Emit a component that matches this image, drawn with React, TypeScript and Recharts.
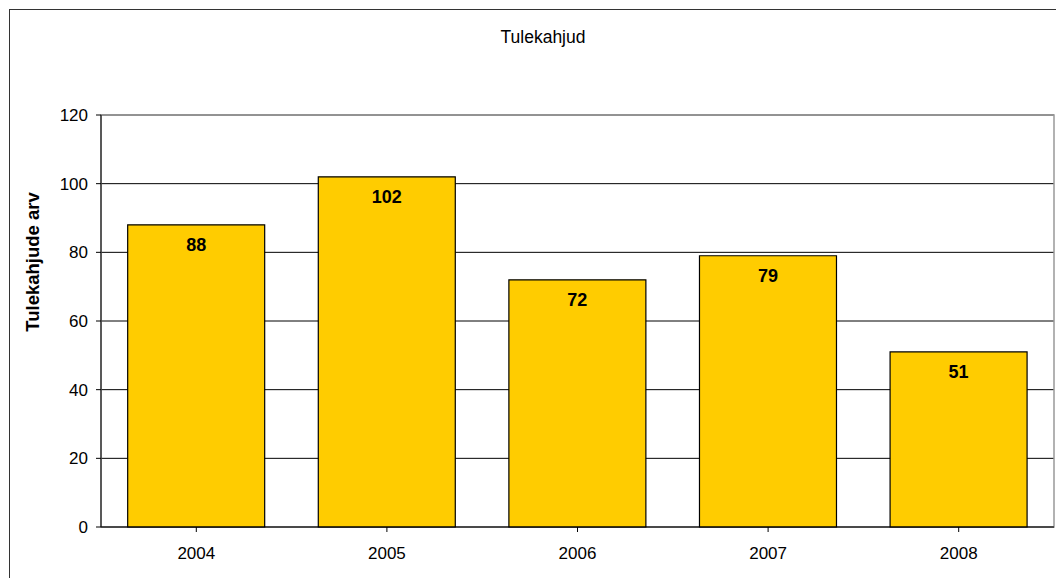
import React from "react";
import { BarChart, Bar, XAxis, YAxis, CartesianGrid, LabelList, ReferenceArea } from "recharts";

const years = ["2004", "2005", "2006", "2007", "2008"];
const fires = [88, 102, 72, 79, 51];
const yTicks = [0, 20, 40, 60, 80, 100, 120];

const data = years.map((year, i) => ({ year, fires: fires[i] }));

const font = "'Liberation Sans', Arial, sans-serif";

export default function App() {
  return (
    <div style={{ position: "absolute", left: 0, top: 0, width: 1056, height: 578, background: "#fff", fontFamily: font, overflow: "hidden" }}>
      <div
        style={{
          position: "absolute",
          left: 9,
          top: 9,
          width: 1060,
          height: 580,
          border: "1.5px solid #333",
          boxSizing: "border-box",
        }}
      />
      <div style={{ position: "absolute", left: 0, width: 1086, top: 27, textAlign: "center", fontSize: 17.5, color: "#000" }}>
        Tulekahjud
      </div>
      {/* y axis title sits above the plot centre in the original */}
      <div
        style={{
          position: "absolute",
          left: 33,
          top: 262,
          transform: "translate(-50%, -50%) rotate(-90deg)",
          whiteSpace: "nowrap",
          fontSize: 18.5,
          fontWeight: "bold",
          color: "#000",
        }}
      >
        Tulekahjude arv
      </div>
      <BarChart
        width={1056}
        height={578}
        data={data}
        margin={{ top: 115, right: 2, bottom: 21, left: 0 }}
        barCategoryGap="14%"
        style={{ position: "absolute", left: 0, top: 0 }}
      >
        <CartesianGrid horizontal vertical={false} stroke="#000" strokeOpacity={1} />
        <ReferenceArea y1={0} y2={120} fill="none" stroke="#999" strokeWidth={1.5} ifOverflow="visible" />
        <XAxis
          dataKey="year"
          height={30}
          stroke="#000"
          tickSize={5}
          tick={{ fontSize: 17, fill: "#000", fontFamily: font, dy: 13 }}
          tickLine={{ stroke: "#000" }}
        />
        <YAxis
          width={101}
          domain={[0, 120]}
          ticks={yTicks}
          interval={0}
          stroke="#000"
          tickSize={5}
          tick={{ fontSize: 17, fill: "#000", fontFamily: font, dx: -6 }}
        />
        <Bar dataKey="fires" fill="#FFCC00" stroke="#000" strokeWidth={1.2} isAnimationActive={false}>
          <LabelList
            dataKey="fires"
            position="insideTop"
            offset={13}
            style={{ fontSize: 18, fontWeight: "bold", fill: "#000", fontFamily: font }}
          />
        </Bar>
      </BarChart>
    </div>
  );
}
